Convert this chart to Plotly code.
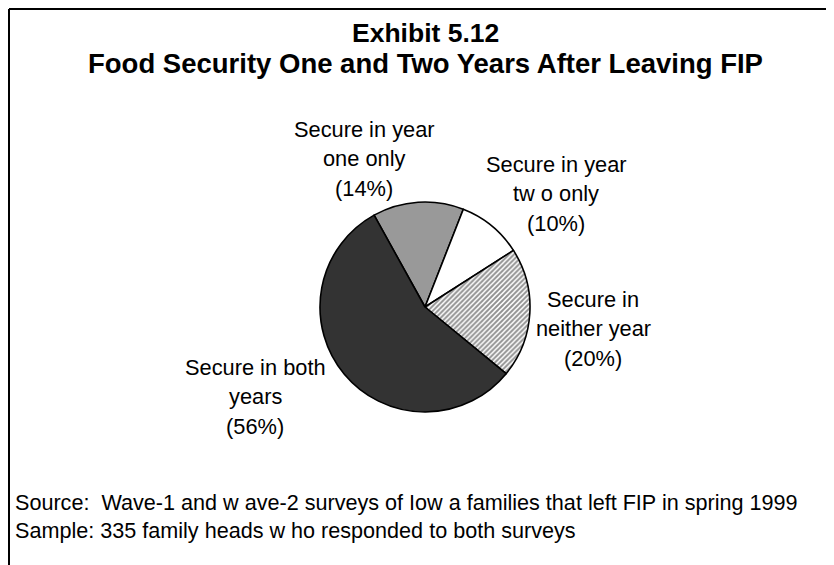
import plotly.graph_objects as go

# ---- data ----
categories = ["Secure in year one only", "Secure in year two only",
              "Secure in neither year", "Secure in both years"]
values = [14, 10, 20, 56]
label_lines = [
    ["Secure in year", "one only", "(14%)"],
    ["Secure in year", "tw o only", "(10%)"],
    ["Secure in", "neither year", "(20%)"],
    ["Secure in both", "years", "(56%)"],
]
title_lines = ["Exhibit 5.12", "Food Security One and Two Years After Leaving FIP"]
note_lines = [
    "Source:  Wave-1 and w ave-2 surveys of Iow a families that left FIP in spring 1999",
    "Sample: 335 family heads w ho responded to both surveys",
]

# ---- layout constants ----
# the page body has an 8px margin, so the figure starts at (8, 8) in the window
OFF = 8
W, H = 834 - OFF, 565 - OFF
FONT = "Liberation Sans, Arial, sans-serif"
cx, cy, r = 425 - OFF, 307 - OFF, 105

fill_colors = ["#999999", "#ffffff", "#ffffff", "#333333"]
pattern_shapes = ["", "", "/", ""]

fig = go.Figure(go.Pie(
    labels=categories,
    values=values,
    sort=False,
    direction="clockwise",
    rotation=-29,
    textinfo="none",
    hoverinfo="label+percent",
    showlegend=False,
    marker=dict(
        colors=fill_colors,
        line=dict(color="#000000", width=1.6),
        pattern=dict(shape=pattern_shapes, fgcolor="#222222", bgcolor="#ffffff",
                     size=3.5, solidity=0.55, fillmode="overlay"),
    ),
    domain=dict(x=[(cx - r) / W, (cx + r) / W],
                y=[(H - cy - r) / H, (H - cy + r) / H]),
))

ann = []

def add_text(txt, x, y, size, bold=False, xanchor="center"):
    # x, y are window pixel positions
    ann.append(dict(
        text=f"<b>{txt}</b>" if bold else txt,
        x=(x - OFF) / W, y=1 - (y - OFF) / H, xref="paper", yref="paper",
        xanchor=xanchor, yanchor="middle", showarrow=False,
        font=dict(family=FONT, size=size, color="#000000"),
    ))

# title
add_text(title_lines[0], 426, 33, 26.5, bold=True)
add_text(title_lines[1], 426, 63, 27.5, bold=True)

# slice labels (center x, first-line y)
label_pos = [(364, 129), (556, 164), (593, 299), (255, 367)]
for lines, (lx, ly) in zip(label_lines, label_pos):
    for i, t in enumerate(lines):
        add_text(t, lx, ly + i * 29.5, 21.8)

# notes
add_text(note_lines[0], 13, 502, 21.6, xanchor="left")
add_text(note_lines[1], 13, 530, 21.6, xanchor="left")

shapes = [
    dict(type="line", xref="paper", yref="paper", x0=1 / W, x1=1.0,
         y0=1 - 1 / H, y1=1 - 1 / H, line=dict(color="#000000", width=2)),
    dict(type="line", xref="paper", yref="paper", x0=1 / W, x1=1 / W,
         y0=1 - 1 / H, y1=0, line=dict(color="#000000", width=2)),
]

fig.update_layout(
    width=W, height=H,
    margin=dict(l=0, r=0, t=0, b=0),
    paper_bgcolor="#ffffff", plot_bgcolor="#ffffff",
    annotations=ann, shapes=shapes,
)

fig.write_html("out.html")
